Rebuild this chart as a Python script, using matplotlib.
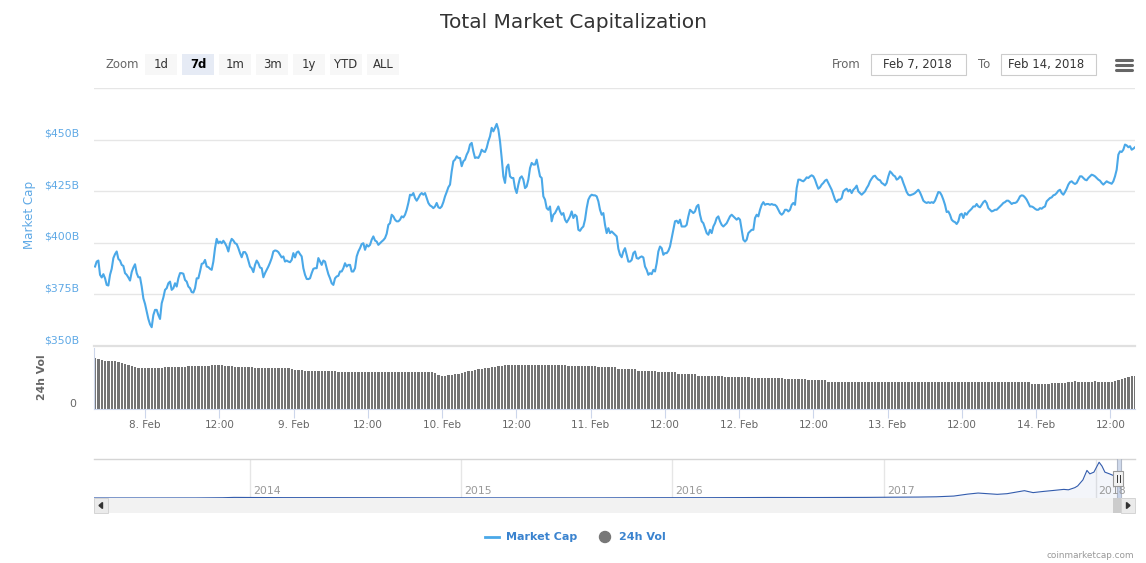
import numpy as np
import pandas as pd
import matplotlib
matplotlib.use("Agg")
import matplotlib.pyplot as plt
import matplotlib.dates as mdates
from matplotlib.patches import Rectangle, Circle, Polygon

plt.rcParams['font.family'] = ['DejaVu Sans']

# Total market cap, $B (7 days, ~16 min steps)
market_cap = [
    388.5, 390.9, 391.4, 384.5, 383.2, 384.8, 382.8, 379.6, 379.3, 384.5,
    387.4, 392.6, 394.5, 395.8, 392.2, 391.4, 389.3, 388.8, 385.3, 384.5,
    383.2, 381.7, 385.8, 388.0, 389.6, 385.3, 383.3, 383.3, 378.8, 373.1,
    370.4, 366.7, 363.1, 360.5, 359.1, 365.0, 367.5, 367.5, 365.0, 363.1,
    370.7, 373.5, 377.2, 378.0, 380.4, 381.2, 377.2, 378.0, 380.4, 378.8,
    382.8, 385.3, 385.3, 385.0, 382.0, 381.2, 378.8, 378.0, 376.1, 375.9,
    378.0, 382.8, 382.8, 386.1, 389.8, 390.1, 391.7, 388.5, 388.2, 387.4,
    386.9, 390.9, 397.4, 401.9, 399.8, 400.6, 399.8, 401.0, 399.8, 398.2,
    395.8, 399.8, 401.9, 401.1, 399.8, 399.4, 397.4, 395.0, 393.0, 395.5,
    395.5, 394.2, 391.4, 388.5, 387.7, 385.8, 389.3, 391.4, 390.1, 388.0,
    387.7, 383.3, 385.3, 386.9, 388.5, 390.4, 392.6, 395.8, 396.3, 396.1,
    395.5, 394.2, 392.9, 393.4, 390.9, 391.4, 390.9, 390.6, 391.7, 395.0,
    392.9, 395.3, 395.8, 394.5, 393.4, 387.7, 384.5, 382.5, 382.4, 382.8,
    385.3, 387.4, 387.7, 387.7, 392.6, 390.9, 389.3, 391.4, 390.9, 387.7,
    384.8, 382.8, 380.4, 379.6, 382.8, 383.7, 384.0, 386.1, 386.1, 387.7,
    390.1, 388.5, 389.3, 389.3, 386.1, 386.1, 387.7, 393.4, 395.8, 397.4,
    399.4, 399.8, 396.6, 399.0, 398.2, 399.0, 401.5, 403.1, 401.1, 400.6,
    399.0, 399.8, 400.6, 401.3, 402.3, 404.4, 408.7, 409.5, 413.6, 412.8,
    411.2, 410.4, 410.4, 411.2, 412.8, 412.3, 413.6, 416.0, 419.3, 423.3,
    423.0, 424.1, 421.7, 420.4, 421.7, 423.3, 424.1, 423.3, 424.1, 421.7,
    419.3, 418.1, 417.6, 416.8, 417.6, 419.3, 417.2, 416.8,
    417.6, 419.7, 422.5, 424.6, 426.9, 428.2, 434.6, 439.5, 440.3, 441.9,
    441.1, 441.1, 437.1, 439.5, 440.3, 442.7, 444.3, 447.6, 448.4, 444.3,
    441.1, 441.4, 441.1, 442.7, 445.1, 444.3, 444.0, 446.0, 449.2, 451.6,
    455.7, 454.0, 455.7, 457.6, 454.9, 449.2, 441.1, 432.2, 429.0, 436.6,
    437.9, 432.2, 431.4, 431.4, 426.5, 424.1, 428.2, 431.4, 432.2, 430.6,
    426.5, 427.3, 430.6, 436.2, 438.7, 437.9, 437.9, 440.3, 436.2, 432.2,
    431.4, 422.5, 420.9, 416.8, 416.0, 417.6, 410.4, 413.6, 414.4, 416.0,
    417.6, 415.2, 413.6, 414.4, 411.2, 409.9, 411.2, 412.8, 415.2, 412.0,
    413.6, 412.8, 406.3, 405.8, 407.1, 407.9, 411.2, 416.8, 420.9, 422.5,
    423.3, 423.0, 423.0, 422.5, 420.1, 416.0, 413.6, 414.4, 408.7, 404.7,
    407.1, 404.7, 405.5, 404.7, 403.9, 403.1, 397.1, 394.2, 393.0, 395.8,
    397.4, 394.2, 390.9, 390.9, 391.7, 395.0, 395.8, 392.6, 392.3, 393.0,
    393.4, 392.9, 388.5, 386.9, 384.5, 385.3, 384.8, 386.9, 386.1, 390.1,
    395.8, 398.2, 397.4, 394.2, 395.0, 395.0, 396.1, 398.2, 402.3, 406.3,
    410.4, 410.7, 409.5, 411.2, 407.9, 407.9, 407.9, 408.7, 412.8, 416.0,
    415.2, 414.4, 415.2, 417.6, 418.4, 413.6, 410.4, 409.5, 407.1, 404.7,
    403.9, 406.3, 404.7, 407.9, 409.5, 412.0, 412.8, 410.4, 408.7, 407.9,
    408.7, 409.5, 411.2, 412.8, 413.6, 412.8, 412.0, 411.2, 412.0, 411.2,
    406.3, 401.5, 400.6, 401.5, 404.7, 405.5, 406.3, 406.3, 412.0, 413.6,
    412.8, 416.0, 418.4, 419.7, 418.4, 418.8, 418.8, 418.4, 418.8, 418.4,
    418.4, 417.6, 416.0, 414.4, 413.6, 414.4, 416.0,
    416.0, 415.2, 416.0, 418.4, 419.3, 418.4, 426.5, 430.6, 430.6, 430.1,
    429.8, 430.6, 431.7, 431.4, 432.2, 432.7, 432.2, 430.6, 428.2, 426.2,
    426.9, 428.2, 429.0, 430.1, 430.6, 429.0, 427.3, 425.7, 423.3, 420.9,
    419.7, 420.9, 420.9, 421.7, 424.9, 425.7, 426.2, 424.9, 425.7, 424.1,
    425.7, 426.5, 427.7, 424.9, 424.1, 423.3, 424.1, 424.9, 426.5, 427.8,
    429.8, 431.1, 432.2, 432.5, 431.4, 430.6, 430.3, 429.0, 428.5, 427.8,
    429.0, 432.2, 434.6, 433.8, 432.7, 432.2, 430.6, 431.1, 432.2, 431.4,
    429.0, 426.9, 424.6, 423.3, 423.0, 423.3, 423.6, 424.1, 424.9, 425.7,
    424.4, 422.5, 420.4, 419.7, 419.3, 419.7, 419.3, 419.7, 419.3, 420.4,
    422.5, 424.6, 424.4, 423.0, 420.9, 418.4, 414.9, 415.2, 413.6, 411.2,
    410.4, 410.0, 409.1, 410.4, 413.6, 414.1, 412.0, 414.4, 413.6, 414.9,
    415.7, 416.5, 417.6, 417.6, 418.8, 417.6, 417.2, 418.4, 419.7, 420.4,
    419.3, 416.8, 416.0, 415.2, 415.5, 416.0, 416.0, 416.8, 417.6, 418.4,
    419.3, 419.7, 420.4, 420.4, 419.7, 418.8, 419.3, 419.3, 419.7, 420.9,
    422.5, 423.0, 422.8, 422.0, 420.9, 419.3, 417.6, 417.6, 417.2, 416.5,
    416.0, 416.0, 416.8, 416.5, 417.2, 417.6, 420.1, 420.9, 421.7, 422.0,
    423.0, 423.3, 424.1, 425.2, 425.7, 424.1, 423.3, 424.6, 426.2, 428.2,
    429.4, 429.8, 429.0, 428.5, 429.0, 430.6, 432.2, 432.2, 431.4, 430.6,
    430.3, 431.4, 432.2, 433.0, 432.7, 432.2, 431.4, 430.6, 430.1, 429.0,
    428.2, 429.0, 429.8, 429.3, 429.0, 428.6, 429.8, 432.2, 435.4, 442.7,
    444.3, 444.0, 445.1, 447.6, 447.2, 446.3, 446.8, 445.1, 445.6, 446.3,
]

# 24h volume, $B (~32 min bars)
volume = [
    30.6, 30.0, 29.4, 28.8, 28.8, 28.9, 28.8, 28.2, 27.6, 27.0,
    26.4, 25.8, 25.2, 24.6, 24.6, 24.5, 24.6, 24.6, 24.5, 24.6,
    24.6, 25.2, 25.2, 25.1, 25.2, 25.2, 25.3, 25.2, 25.8, 25.8,
    25.8, 25.7, 25.8, 25.8, 25.9, 26.4, 26.4, 26.5, 26.4, 25.8,
    25.8, 25.7, 25.2, 25.2, 25.3, 25.2, 25.2, 25.1, 24.6, 24.6,
    24.7, 24.6, 24.6, 24.5, 24.6, 24.6, 24.6, 24.7, 24.6, 24.0,
    23.4, 23.4, 23.3, 22.8, 22.8, 22.9, 22.8, 22.8, 22.7, 22.8,
    22.8, 22.9, 22.8, 22.2, 22.2, 22.3, 22.2, 22.2, 22.1, 22.2,
    22.2, 22.3, 22.2, 22.2, 22.1, 22.2, 22.2, 22.3, 22.2, 22.2,
    22.2, 22.1, 22.2, 22.2, 22.3, 22.2, 22.2, 22.1, 22.2, 22.2,
    22.2, 22.1, 21.6, 20.4, 19.8, 19.8, 20.4, 20.4, 21.0, 21.0,
    21.6, 22.2, 22.8, 22.8, 23.4, 24.0, 24.0, 24.6, 24.6, 25.2,
    25.2, 25.8, 25.8, 26.4, 26.4, 26.5, 26.4, 26.4, 26.3, 26.4,
    26.4, 26.5, 26.4, 26.4, 26.3, 26.4, 26.4, 26.5, 26.4, 26.4,
    26.4, 26.3, 25.8, 25.8, 25.9, 25.8, 25.8, 25.7, 25.8, 25.8,
    25.8, 25.2, 25.2, 25.3, 25.2, 25.2, 25.1, 24.0, 24.0, 24.1,
    24.0, 24.0, 23.9, 22.8, 22.8, 22.9, 22.8, 22.8, 22.7, 22.2,
    22.2, 22.3, 22.2, 22.2, 22.1, 21.0, 21.0, 21.1, 21.0, 21.0,
    20.9, 19.8, 19.8, 19.9, 19.8, 19.8, 19.7, 19.8, 19.8, 19.2,
    19.2, 19.3, 19.2, 19.2, 19.1, 19.2, 19.2, 18.6, 18.6, 18.6,
    18.7, 18.6, 18.6, 18.5, 18.6, 18.6, 18.6, 18.0, 18.0, 18.1,
    18.0, 18.0, 17.9, 18.0, 17.4, 17.4, 17.5, 17.4, 17.4, 17.3,
    16.2, 16.2, 16.3, 16.2, 16.2, 16.1, 16.2, 16.2, 16.3, 16.2,
    16.2, 16.1, 16.2, 16.2, 16.3, 16.2, 16.2, 16.1, 16.2, 16.2,
    16.3, 16.2, 16.2, 16.1, 16.2, 16.2, 16.3, 16.2, 16.2, 16.1,
    16.2, 16.2, 16.3, 16.2, 16.2, 16.1, 16.2, 16.2, 16.3, 16.2,
    16.2, 16.1, 16.2, 16.2, 16.3, 16.2, 16.2, 16.1, 16.2, 16.2,
    16.3, 16.2, 16.2, 16.1, 16.2, 16.2, 16.3, 16.2, 16.2, 16.1,
    16.2, 15.0, 15.0, 15.1, 15.0, 15.0, 14.9, 15.6, 15.6, 15.7,
    15.6, 15.6, 16.5, 16.5, 16.6, 16.5, 16.5, 16.4, 16.5, 16.5,
    16.6, 16.5, 16.5, 16.4, 16.5, 16.2, 16.8, 17.4, 18.0, 18.6,
    19.2, 19.8, 19.8,
]

# navigator: total market cap history, $B
nav_dates = ["2013-04-07", "2013-06-01", "2013-08-01", "2013-10-01", "2013-11-15",
             "2013-12-05", "2014-01-15", "2014-03-01", "2014-06-01", "2014-09-01",
             "2014-12-01", "2015-03-01", "2015-06-01", "2015-09-01", "2015-12-01",
             "2016-03-01", "2016-06-15", "2016-09-01", "2016-12-01", "2017-01-05",
             "2017-03-01", "2017-04-01", "2017-05-01", "2017-05-25", "2017-06-12",
             "2017-07-15", "2017-08-01", "2017-08-31", "2017-09-15", "2017-10-01",
             "2017-10-20", "2017-11-07", "2017-11-15", "2017-11-26", "2017-12-01",
             "2017-12-10", "2017-12-17", "2017-12-22", "2017-12-29", "2018-01-07",
             "2018-01-12", "2018-01-17", "2018-01-25", "2018-02-01", "2018-02-06",
             "2018-02-10", "2018-02-14"]
nav_cap = [1.6, 1.3, 1.4, 2.0, 6.5, 14.0, 11.0, 8.5, 8.0, 6.5,
           4.8, 4.0, 4.2, 4.0, 6.8, 7.5, 12.0, 11.0, 14.0, 17.5,
           22.0, 28.0, 45.0, 90.0, 115.0, 85.0, 100.0, 170.0, 125.0, 150.0,
           175.0, 200.0, 190.0, 240.0, 280.0, 420.0, 640.0, 560.0, 600.0, 830.0,
           740.0, 600.0, 560.0, 520.0, 330.0, 400.0, 445.0]

y_ticks = [350, 375, 400, 425, 450]
zoom_buttons = ["1d", "7d", "1m", "3m", "1y", "YTD", "ALL"]
years = [2014, 2015, 2016, 2017, 2018]

LINE = "#4aa8e8"
AXBLUE = "#5fa9e6"
GRID = "#e6e6e6"

t_line = pd.date_range("2018-02-07 15:55", "2018-02-14 16:00", periods=len(market_cap))
t_vol = mdates.date2num(pd.date_range("2018-02-07 15:55", "2018-02-14 16:00", periods=len(volume)))
x0 = mdates.date2num(pd.Timestamp("2018-02-07 15:45"))
x1 = mdates.date2num(pd.Timestamp("2018-02-14 16:00"))

W, H = 1146, 563
fig = plt.figure(figsize=(W / 100, H / 100), dpi=100)


def frame(l, t, r, b):
    return [l / W, 1 - b / H, (r - l) / W, (b - t) / H]


# main price panel
ax = fig.add_axes(frame(94, 88, 1135, 346))
ax.plot(mdates.date2num(t_line), market_cap, color=LINE, lw=1.5, solid_joinstyle='round')
ax.set_xlim(x0, x1)
ax.set_ylim(350, 475)
ax.set_yticks([375, 400, 425, 450, 475])
ax.grid(axis='y', color=GRID, lw=1)
ax.axhline(350, color="#e0e0e0", lw=1.6, clip_on=False, zorder=0)
ax.tick_params(left=False, bottom=False, labelleft=False, labelbottom=False)
for s in ax.spines.values():
    s.set_visible(False)
for v in y_ticks:
    ax.annotate(f"${v}B", xy=(0, v), xycoords=('axes fraction', 'data'),
                xytext=(-15, 6), textcoords='offset pixels',
                ha='right', va='center', fontsize=7.8, color=AXBLUE)

# volume panel
axv = fig.add_axes(frame(94, 348, 1135, 409))
step = t_vol[1] - t_vol[0]
axv.bar(t_vol, volume, width=step * 0.7, color="#737373", align='center')
axv.set_xlim(x0, x1)
axv.set_ylim(0, 36.6)
axv.set_yticks([])
for s in ['top', 'right']:
    axv.spines[s].set_visible(False)
axv.spines['bottom'].set_color("#ccd6eb")
axv.spines['left'].set_color("#ccd6eb")
ticks = pd.date_range("2018-02-08", "2018-02-14 12:00", freq="12h")
axv.set_xticks(mdates.date2num(ticks))
axv.set_xticklabels([f"{t.day}. Feb" if t.hour == 0 else "12:00" for t in ticks])
axv.tick_params(axis='x', length=6.5, color="#ccd6eb", labelsize=7.5,
                labelcolor="#666666", pad=1.5)
axv.annotate("0", xy=(0, 0), xycoords='axes fraction', xytext=(-18, 5),
             textcoords='offset pixels', ha='right', va='center',
             fontsize=7.8, color="#666666")

# navigator
axn = fig.add_axes(frame(94, 459, 1135, 498))
nd = mdates.date2num(pd.to_datetime(nav_dates))
axn.fill_between(nd, nav_cap, color="#335cad", alpha=0.06, lw=0)
axn.plot(nd, nav_cap, color="#335cad", lw=0.8)
axn.set_xlim(mdates.date2num(pd.Timestamp("2013-04-07")),
             mdates.date2num(pd.Timestamp("2018-03-10")))
axn.set_ylim(0, 905)
axn.set_xticks([])
axn.set_yticks([])
for s in axn.spines.values():
    s.set_visible(False)
for yr in years:
    xd = mdates.date2num(pd.Timestamp(f"{yr}-01-01"))
    axn.axvline(xd, color=GRID, lw=1, zorder=0)
    axn.annotate(str(yr), xy=(xd, 0.18), xycoords=('data', 'axes fraction'),
                 xytext=(3, 0), textcoords='offset pixels', ha='left', va='center',
                 fontsize=7.8, color="#999999")
sel0 = mdates.date2num(pd.Timestamp("2018-02-07"))
sel1 = mdates.date2num(pd.Timestamp("2018-02-14"))
axn.axvspan(sel0, sel1, color=(0.4, 0.52, 0.76, 0.3), lw=0)
axn.plot([0, 1], [1, 1], transform=axn.transAxes, color="#d5d5d5", lw=1, clip_on=False)
axn.plot([sel0, sel0], [0, 905], color="#b0b8c8", lw=0.8)
axn.plot([sel1, sel1], [0, 905], color="#b0b8c8", lw=0.8)

# overlay in pixel coordinates for toolbar, scrollbar, legend
ov = fig.add_axes([0, 0, 1, 1])
ov.set_xlim(0, W)
ov.set_ylim(H, 0)
ov.axis('off')

fig.text(573 / W, 1 - 22 / H, "Total Market Capitalization", ha='center', va='center',
         fontsize=14.5, color="#333333")

ov.text(105, 64.5, "Zoom", ha='left', va='center', fontsize=8.4, color="#666666")
bx = [145, 182, 219, 256, 293, 330, 367]
for x, lab in zip(bx, zoom_buttons):
    sel = lab == "7d"
    ov.add_patch(Rectangle((x, 54), 32, 21, facecolor="#e6ebf5" if sel else "#f7f7f7",
                           edgecolor='none'))
    ov.text(x + 16, 64.5, lab, ha='center', va='center', fontsize=8.4,
            color="#000000" if sel else "#333333", fontweight='bold' if sel else 'normal')

ov.text(832, 64, "From", ha='left', va='center', fontsize=8.4, color="#666666")
ov.add_patch(Rectangle((871, 54), 95, 21, facecolor='white', edgecolor="#cccccc", lw=0.8))
ov.text(883, 64.5, "Feb 7, 2018", ha='left', va='center', fontsize=8.4, color="#333333")
ov.text(978, 64, "To", ha='left', va='center', fontsize=8.4, color="#666666")
ov.add_patch(Rectangle((1001, 54), 95, 21, facecolor='white', edgecolor="#cccccc", lw=0.8))
ov.text(1008, 64.5, "Feb 14, 2018", ha='left', va='center', fontsize=8.4, color="#333333")
for yy in [60, 65, 70]:
    ov.plot([1116, 1132], [yy, yy], color="#666666", lw=2.2, solid_capstyle='round')

# axis titles
ov.text(29, 215, "Market Cap", rotation=90, ha='center', va='center', fontsize=8.6,
        color=AXBLUE)
ov.text(42, 377, "24h Vol", rotation=90, ha='center', va='center', fontsize=7.8,
        color="#666666", fontweight='bold')

# scrollbar
ov.add_patch(Rectangle((94, 498), 1041, 15, facecolor="#f2f2f2", edgecolor='none'))
ov.add_patch(Rectangle((94, 498), 14, 15, facecolor="#ebebeb", edgecolor="#d0d0d0", lw=0.6))
ov.add_patch(Rectangle((1121, 498), 14, 15, facecolor="#ebebeb", edgecolor="#d0d0d0", lw=0.6))
ov.add_patch(Rectangle((1113, 498), 8, 15, facecolor="#cccccc", edgecolor='none'))
ov.add_patch(Polygon([[102.5, 502.5], [102.5, 508.5], [99, 505.5]], closed=True, color="#333333"))
ov.add_patch(Polygon([[1126.5, 502.5], [1126.5, 508.5], [1130, 505.5]], closed=True, color="#333333"))

# navigator handle
ov.add_patch(Rectangle((1113, 471), 10, 15, facecolor="#f2f2f2", edgecolor="#999999", lw=0.8))
ov.plot([1116.5, 1116.5], [475, 482], color="#333333", lw=0.7)
ov.plot([1119.5, 1119.5], [475, 482], color="#333333", lw=0.7)

# legend
ov.plot([485, 499], [537, 537], color=LINE, lw=2)
ov.text(506, 537, "Market Cap", ha='left', va='center', fontsize=8, fontweight='bold',
        color="#3a83cf")
ov.add_patch(Circle((605, 537), 5.5, color="#777777"))
ov.text(619, 537, "24h Vol", ha='left', va='center', fontsize=8, fontweight='bold',
        color="#3a83cf")

ov.text(1134, 555, "coinmarketcap.com", ha='right', va='center', fontsize=6.4,
        color="#999999")

fig.savefig("out.png", dpi=100)
